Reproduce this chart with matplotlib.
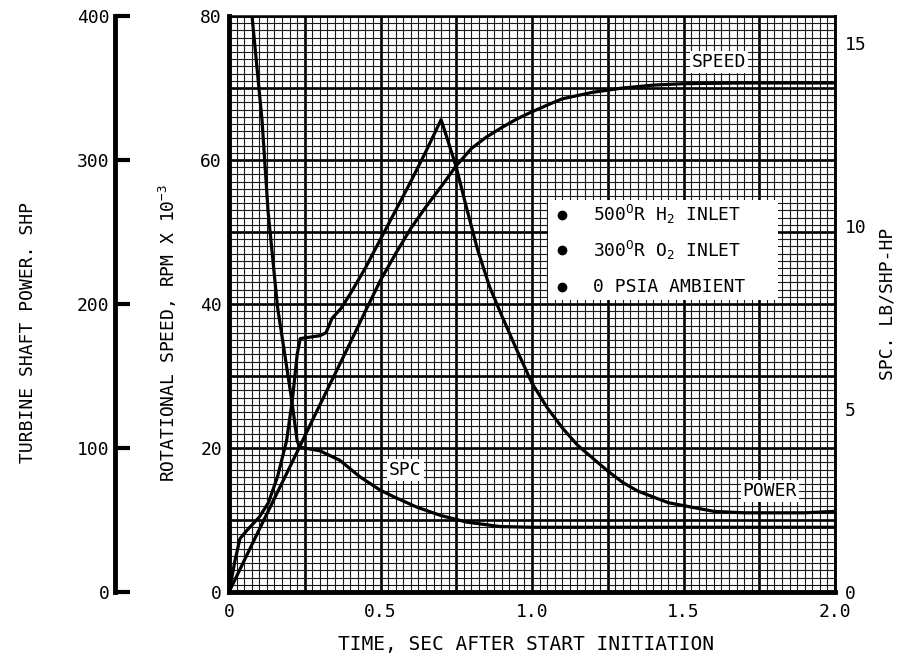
import matplotlib
matplotlib.use("Agg")
import matplotlib.pyplot as plt
from matplotlib.patches import Rectangle
from matplotlib.ticker import MultipleLocator

plt.rcParams['font.family'] = ['DejaVu Sans Mono']
plt.rcParams['mathtext.fontset'] = 'custom'
plt.rcParams['mathtext.rm'] = 'DejaVu Sans Mono'
plt.rcParams['mathtext.it'] = 'DejaVu Sans Mono'

# speed, thousands of rpm
speed_t = [0, 0.1, 0.2, 0.3, 0.4, 0.45, 0.5, 0.55, 0.6, 0.65, 0.7, 0.75, 0.8,
           0.85, 0.9, 0.95, 1.0, 1.06, 1.1, 1.2, 1.3, 1.4, 1.5, 1.7, 2.0]
speed_krpm = [0, 8.7, 17.3, 26, 34.6, 39, 43.3, 47, 50.5, 53.5, 56.3, 59.2,
              61.6, 63.2, 64.5, 65.7, 66.7, 67.8, 68.5, 69.4, 70.0, 70.4, 70.6,
              70.7, 70.7]

# turbine shaft power, shp
power_t = [0, 0.02, 0.036, 0.06, 0.1, 0.13, 0.16, 0.19, 0.21, 0.225, 0.235,
           0.30, 0.32, 0.34, 0.37, 0.40, 0.45, 0.5, 0.6, 0.65, 0.70, 0.72,
           0.75, 0.78, 0.82, 0.86, 0.9, 0.95, 1.0, 1.05, 1.1, 1.15, 1.2, 1.25,
           1.3, 1.35, 1.4, 1.45, 1.5, 1.6, 1.7, 1.8, 1.9, 2.0]
power_shp = [0, 22, 37, 43, 52, 62, 80, 105, 135, 165, 176, 178, 180, 190, 197,
             207, 225, 245, 285, 306, 328, 315, 295, 270, 238, 212, 192, 168,
             145, 128, 114, 102, 93, 84, 76, 70, 66, 62, 60, 56, 55, 55, 55, 56]

# specific propellant consumption, lb/shp-hr
spc_t = [0.07, 0.076, 0.109, 0.129, 0.16, 0.207, 0.225, 0.234, 0.30, 0.366,
         0.432, 0.498, 0.55, 0.62, 0.70, 0.785, 0.894, 1.0, 1.3, 1.6, 2.0]
spc_val = [16.25, 15.75, 12.9, 10.4, 7.8, 5.25, 4.13, 3.96, 3.86, 3.60, 3.15,
           2.79, 2.58, 2.32, 2.09, 1.91, 1.79, 1.77, 1.77, 1.77, 1.77]

conditions = [r'500$^{\mathrm{O}}$R H$_{2}$ INLET',
              r'300$^{\mathrm{O}}$R O$_{2}$ INLET',
              '0 PSIA AMBIENT']

fs = 13
lw = 2.3

fig = plt.figure(figsize=(9, 6.62), dpi=100)
ax = fig.add_axes([229 / 900, 1 - 592 / 662, 606 / 900, 576 / 662])
ax.set_xlim(0, 2.0)
ax.set_ylim(0, 80)

# graph paper
ax.set_xticks([i * 0.25 for i in range(9)])
ax.set_xticklabels(['0', '', '0.5', '', '1.0', '', '1.5', '', '2.0'])
ax.set_yticks(range(0, 81, 10))
ax.set_yticklabels(['0', '', '20', '', '40', '', '60', '', '80'])
ax.xaxis.set_minor_locator(MultipleLocator(0.025))
ax.yaxis.set_minor_locator(MultipleLocator(1))
ax.grid(which='minor', color='#1a1a1a', lw=0.8)
ax.grid(which='major', color='black', lw=1.9)
ax.set_axisbelow(True)
ax.tick_params(which='both', length=0)
ax.tick_params(axis='x', pad=8, labelsize=fs)
ax.tick_params(axis='y', pad=5, labelsize=fs)
for s in ['left', 'bottom']:
    ax.spines[s].set_linewidth(3.5)
for s in ['top', 'right']:
    ax.spines[s].set_linewidth(1.8)
ax.set_xlabel('TIME, SEC AFTER START INITIATION', fontsize=fs + 1)
ax.xaxis.set_label_coords(0.49, -43 / 576)
ax.set_ylabel(r'ROTATIONAL SPEED, RPM X 10$^{-3}$', fontsize=fs)
ax.yaxis.set_label_coords(-50 / 606, 0.45)

# power axis, detached on the left
axp = ax.twinx()
axp.set_ylim(0, 400)
axp.spines['left'].set_position(('axes', -114 / 606))
axp.spines['left'].set_linewidth(3.5)
for s in ['right', 'top', 'bottom']:
    axp.spines[s].set_visible(False)
axp.yaxis.set_ticks_position('left')
axp.yaxis.set_label_position('left')
axp.set_yticks(range(0, 401, 100))
axp.tick_params(axis='y', direction='in', length=11, width=3, pad=4,
                labelsize=fs)
axp.set_ylabel('TURBINE SHAFT POWER. SHP', fontsize=fs)
axp.yaxis.set_label_coords(-192 / 606, 0.45)

# spc axis on the right
axs = ax.twinx()
axs.set_ylim(0, 15.75)
for s in ['left', 'top', 'bottom']:
    axs.spines[s].set_visible(False)
axs.spines['right'].set_linewidth(1.8)
axs.set_yticks([0, 5, 10, 15])
axs.tick_params(axis='y', length=0, pad=7, labelsize=fs)
axs.set_ylabel('SPC. LB/SHP-HP', fontsize=fs)
axs.yaxis.set_label_coords(1 + 43 / 606, 0.5)

ax.plot(speed_t, speed_krpm, color='black', lw=lw, zorder=3)
axp.plot(power_t, power_shp, color='black', lw=lw)
axs.plot(spc_t, spc_val, color='black', lw=lw)

# curve labels and test conditions, drawn on the top axes
box = dict(facecolor='white', edgecolor='none', pad=1.5)
tr = ax.transData
axs.text(1.617, 73.6, 'SPEED', transform=tr, ha='center', va='center',
         fontsize=fs, bbox=box, zorder=5)
axs.text(0.581, 16.9, 'SPC', transform=tr, ha='center', va='center',
         fontsize=fs, bbox=box, zorder=5)
axs.text(1.785, 14.0, 'POWER', transform=tr, ha='center', va='center',
         fontsize=fs, bbox=box, zorder=5)

axs.add_patch(Rectangle((1.053, 40.6), 0.759, 13.8, transform=tr,
                        facecolor='white', edgecolor='none', zorder=4))
for row, label in zip([52.4, 47.5, 42.4], conditions):
    axs.plot([1.099], [row], 'o', color='black', ms=6, transform=tr, zorder=5)
    axs.text(1.201, row, label, transform=tr, ha='left', va='center',
             fontsize=fs, zorder=5)

fig.savefig('out.png', dpi=100)
